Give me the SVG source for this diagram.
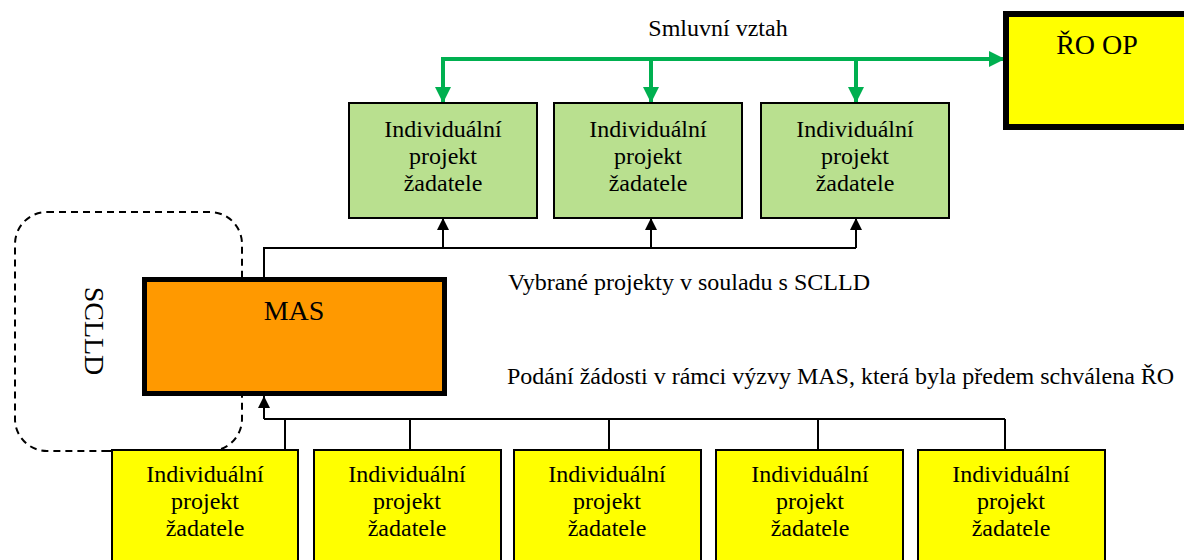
<svg xmlns="http://www.w3.org/2000/svg" width="1184" height="560" viewBox="0 0 1184 560">
<style>
text{font-family:"Liberation Serif","Times New Roman",serif;fill:#000}
.t{font-size:24px;text-anchor:middle}
.big{font-size:28px;text-anchor:middle}
.lbl{font-size:24px}
.g{fill:#B9E08F;stroke:#000;stroke-width:2}
.y{fill:#FFFF00;stroke:#000;stroke-width:2}
.k{fill:none;stroke:#000;stroke-width:2}
.gl{fill:none;stroke:#00B050;stroke-width:4}
</style>
<defs>
<marker id="ga" viewBox="0 0 10 10" refX="10" refY="5" markerWidth="4" markerHeight="4.2" orient="auto" markerUnits="strokeWidth"><path d="M0,0L10,5L0,10z" fill="#00B050"/></marker>
<marker id="ka" viewBox="0 0 10 10" refX="10" refY="5" markerWidth="6" markerHeight="6" orient="auto" markerUnits="strokeWidth"><path d="M0,0L10,5L0,10z" fill="#000"/></marker>
</defs>
<g id="sclld">
<rect x="15" y="212" width="227" height="239" rx="32" ry="32" fill="none" stroke="#000" stroke-width="2" stroke-dasharray="7,5"/>
<text class="big" transform="translate(85,331) rotate(90)">SCLLD</text>
</g>
<g id="connectors">
<path class="gl" d="M443,103V59H1005" marker-end="url(#ga)"/>
<path class="gl" d="M443,59V103" marker-end="url(#ga)"/>
<path class="gl" d="M651,59V103" marker-end="url(#ga)"/>
<path class="gl" d="M856,59V103" marker-end="url(#ga)"/>
<path class="k" d="M264,278V248H856"/>
<path class="k" d="M443,248V218" marker-end="url(#ka)"/>
<path class="k" d="M651,248V218" marker-end="url(#ka)"/>
<path class="k" d="M856,248V218" marker-end="url(#ka)"/>
<path class="k" d="M264,419V396" marker-end="url(#ka)"/>
<path class="k" d="M264,419H1005"/>
<path class="k" d="M285,419V451M410,419V451M609,419V451M818,419V451M1005,419V451"/>
<path class="k" d="M103,451H112"/>
</g>
<g id="ro-op">
<rect x="1006" y="14" width="190" height="113" fill="#FFFF00" stroke="#000" stroke-width="6"/>
<text class="big" x="1097" y="54">ŘO OP</text>
</g>
<g id="mas">
<rect x="144.5" y="279.5" width="300" height="114" fill="#FF9900" stroke="#000" stroke-width="5"/>
<text class="big" x="294" y="320">MAS</text>
</g>
<g id="g1"><rect class="g" x="349" y="103" width="188" height="115"/><text class="t" x="443" y="137">Individuální</text><text class="t" x="443" y="164">projekt</text><text class="t" x="443" y="191">žadatele</text></g>
<g id="g2"><rect class="g" x="554" y="103" width="188" height="115"/><text class="t" x="648" y="137">Individuální</text><text class="t" x="648" y="164">projekt</text><text class="t" x="648" y="191">žadatele</text></g>
<g id="g3"><rect class="g" x="761" y="103" width="188" height="115"/><text class="t" x="855" y="137">Individuální</text><text class="t" x="855" y="164">projekt</text><text class="t" x="855" y="191">žadatele</text></g>
<g id="y1"><rect class="y" x="112" y="450" width="186" height="120"/><text class="t" x="205" y="482">Individuální</text><text class="t" x="205" y="509">projekt</text><text class="t" x="205" y="536">žadatele</text></g>
<g id="y2"><rect class="y" x="314" y="450" width="187" height="120"/><text class="t" x="407" y="482">Individuální</text><text class="t" x="407" y="509">projekt</text><text class="t" x="407" y="536">žadatele</text></g>
<g id="y3"><rect class="y" x="514" y="450" width="187" height="120"/><text class="t" x="607" y="482">Individuální</text><text class="t" x="607" y="509">projekt</text><text class="t" x="607" y="536">žadatele</text></g>
<g id="y4"><rect class="y" x="716" y="450" width="187" height="120"/><text class="t" x="810" y="482">Individuální</text><text class="t" x="810" y="509">projekt</text><text class="t" x="810" y="536">žadatele</text></g>
<g id="y5"><rect class="y" x="918" y="450" width="187" height="120"/><text class="t" x="1011" y="482">Individuální</text><text class="t" x="1011" y="509">projekt</text><text class="t" x="1011" y="536">žadatele</text></g>
<g id="labels">
<text class="t" x="718" y="36">Smluvní vztah</text>
<text class="lbl" x="508" y="290">Vybrané projekty v souladu s SCLLD</text>
<text class="lbl" x="507" y="384">Podání žádosti v rámci výzvy MAS, která byla předem schválena ŘO</text>
</g>
</svg>
